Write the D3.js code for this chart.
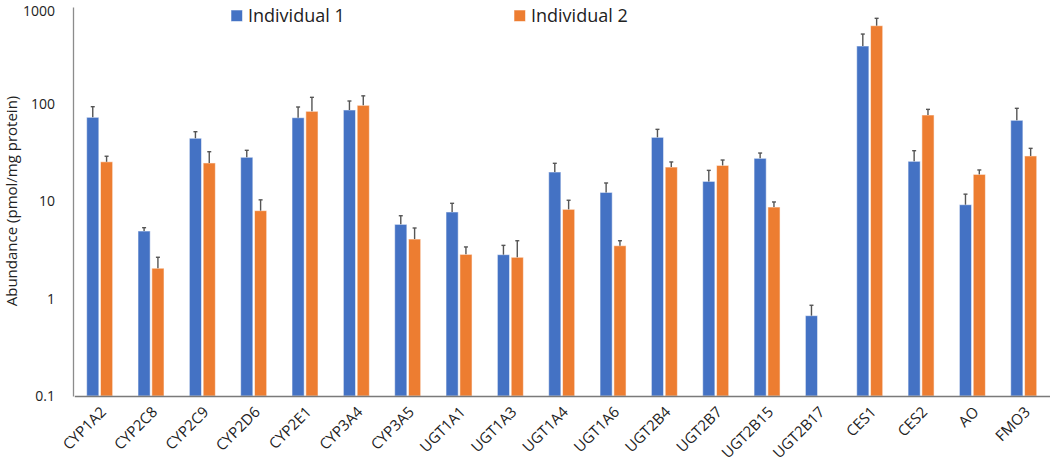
<!DOCTYPE html>
<html><head><meta charset="utf-8">
<script src="https://cdn.jsdelivr.net/npm/d3@7"></script>
<style>body{margin:0;background:#fff}svg{display:block}</style>
</head><body>
<svg id="c" width="1050" height="465"></svg>
<script>
const categories = ["CYP1A2","CYP2C8","CYP2C9","CYP2D6","CYP2E1","CYP3A4","CYP3A5","UGT1A1","UGT1A3","UGT1A4","UGT1A6","UGT2B4","UGT2B7","UGT2B15","UGT2B17","CES1","CES2","AO","FMO3"];
const seriesNames = ["Individual 1","Individual 2"];
const ind1 = [73.4,4.97,44.7,28.5,72.7,87.3,5.82,7.8,2.84,20.1,12.4,45.7,16.1,27.8,0.67,397,25.9,9.27,68.4];
const ind1Err = [94.4,5.38,52.2,33.6,93.7,108,7.14,9.58,3.54,24.7,15.5,55.2,20.9,31.5,0.857,527,33.3,11.9,90.8];
const ind2 = [25.6,2.06,24.9,8.05,84.6,97.5,4.11,2.86,2.67,8.31,3.51,22.6,23.5,8.77,null,642,77.5,19.0,29.4];
const ind2Err = [29.2,2.67,32.5,10.4,117.8,122,5.34,3.41,3.95,10.3,3.95,25.5,26.7,9.89,null,765,88.6,21.1,35.2];
const yTicks = [0.1,1,10,100,1000];
const colors = ["#4472C4","#ED7D31"];

const svg = d3.select("#c");
const font = "'Open Sans', sans-serif";
const y = d3.scaleLog().domain([0.1,1000]).range([396,7]);
const x0 = d3.scaleBand().domain(categories).range([74.3,1049.7]);
const x1 = d3.scaleBand().domain(seriesNames).range([-13.3,12.7]).paddingInner(0.12);

const data = [];
categories.forEach((c,i)=>{
  [[ind1,ind1Err],[ind2,ind2Err]].forEach((s,k)=>{
    if (s[0][i]!=null) data.push({c, k, v:s[0][i], e:s[1][i]});
  });
});

// bars
svg.append("g").selectAll("rect").data(data).join("rect")
  .attr("x", d=>x0(d.c)+x0.bandwidth()/2 + x1(seriesNames[d.k]))
  .attr("width", x1.bandwidth())
  .attr("y", d=>y(d.v))
  .attr("height", d=>y(0.1)-y(d.v))
  .attr("fill", d=>colors[d.k])
  .attr("stroke","rgba(255,255,255,0.55)")
  .attr("stroke-width",1);

// error bars
const eg = svg.append("g").attr("stroke","#555").attr("stroke-width",1.4);
data.forEach(d=>{
  const cx = x0(d.c)+x0.bandwidth()/2 + x1(seriesNames[d.k]) + x1.bandwidth()/2;
  eg.append("line").attr("x1",cx).attr("x2",cx).attr("y1",y(d.v)).attr("y2",y(d.e));
  eg.append("line").attr("x1",cx-2).attr("x2",cx+2).attr("y1",y(d.e)).attr("y2",y(d.e));
});

// y axis
const ya = svg.append("g").attr("transform","translate(73,0)")
  .call(d3.axisLeft(y).tickValues(yTicks).tickFormat(d=>String(d)).tickSize(0).tickPadding(18));
ya.select(".domain").attr("stroke","#8c8c8c").attr("stroke-width",1.3);
ya.selectAll("text").attr("font-family",font).attr("font-size",14).attr("fill","#222")
  .attr("dy", d=> d===1000 ? "0.6em" : "0.32em");

// x axis
const xa = svg.append("g").attr("transform","translate(0,396)")
  .call(d3.axisBottom(x0).tickSize(0).tickPadding(0));
xa.select(".domain").attr("stroke","#7a7a7a").attr("stroke-width",1.3);
xa.selectAll("text")
  .attr("font-family",font).attr("font-size",15).attr("fill","#222")
  .attr("text-anchor","end").attr("dy",0)
  .attr("transform","translate(7,17) rotate(-45)");

// y title
svg.append("text").attr("transform","translate(17,201) rotate(-90)")
  .attr("text-anchor","middle").attr("font-family",font).attr("font-size",15).attr("fill","#222")
  .text("Abundance (pmol/mg protein)");

// legend
const legX = [231,514];
seriesNames.forEach((s,k)=>{
  svg.append("rect").attr("x",legX[k]).attr("y",10).attr("width",11.5).attr("height",11.5).attr("fill",colors[k])
    .attr("stroke","rgba(255,255,255,0.55)");
  svg.append("text").attr("x",legX[k]+17).attr("y",22).attr("font-family",font).attr("font-size",18).attr("fill","#222").text(s);
});
</script>
</body></html>
